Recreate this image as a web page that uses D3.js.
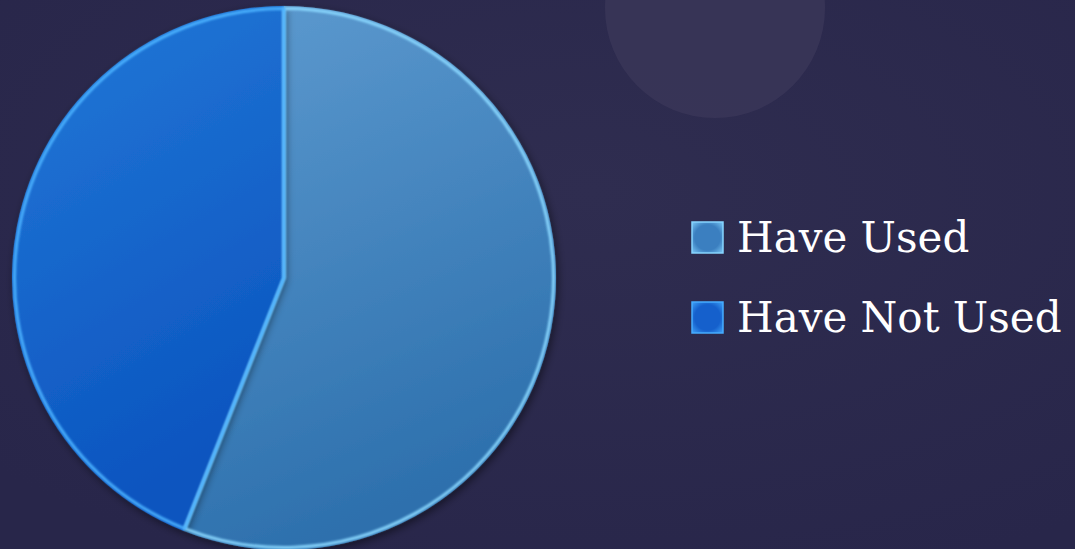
<!DOCTYPE html>
<html>
<head>
<meta charset="utf-8">
<script src="https://cdn.jsdelivr.net/npm/d3@7"></script>
<style>
  html, body { margin: 0; padding: 0; background: #2c2a4c; }
  svg { display: block; }
</style>
</head>
<body>
<svg id="chart" width="1075" height="549"></svg>
<script>
// Survey share: have used vs. have not used
const categories = ["Have Used", "Have Not Used"];
const values = [56, 44];

const W = 1075, H = 549;
const svg = d3.select("#chart");
const defs = svg.append("defs");

// Background
const bg = defs.append("radialGradient").attr("id", "bgGrad")
  .attr("cx", "55%").attr("cy", "35%").attr("r", "75%");
bg.append("stop").attr("offset", "0%").attr("stop-color", "#2f2d50");
bg.append("stop").attr("offset", "100%").attr("stop-color", "#28264a");
svg.append("rect").attr("width", W).attr("height", H).attr("fill", "url(#bgGrad)");

// Faint decorative disc top-right
svg.append("circle").attr("cx", 715).attr("cy", 8).attr("r", 110)
  .attr("fill", "#3a3658").attr("opacity", 0.85);

// Slice gradients
const sliceFills = [
  { id: "gUsed", top: "#5e9bd0", bottom: "#2d70ad", rim: "#8ad8ff" },
  { id: "gNot", top: "#2379d8", bottom: "#0b54bf", rim: "#4cb2ff" }
];
sliceFills.forEach(s => {
  const g = defs.append("linearGradient").attr("id", s.id)
    .attr("x1", "0").attr("y1", "0").attr("x2", "0.3").attr("y2", "1");
  g.append("stop").attr("offset", "0%").attr("stop-color", s.top);
  g.append("stop").attr("offset", "100%").attr("stop-color", s.bottom);
});

// Legend swatch gradients (bevelled look)
const swatch = [
  { id: "sUsed", inner: "#3b7fc0", outer: "#86d4ff" },
  { id: "sNot", inner: "#1560cc", outer: "#46acff" }
];
swatch.forEach(s => {
  const g = defs.append("radialGradient").attr("id", s.id).attr("r", "75%");
  g.append("stop").attr("offset", "55%").attr("stop-color", s.inner);
  g.append("stop").attr("offset", "100%").attr("stop-color", s.outer);
});

// Drop shadow under the pie
const shadow = defs.append("filter").attr("id", "shadow")
  .attr("x", "-10%").attr("y", "-10%").attr("width", "120%").attr("height", "120%");
shadow.append("feGaussianBlur").attr("in", "SourceAlpha").attr("stdDeviation", 4);
shadow.append("feOffset").attr("dx", 2).attr("dy", 3).attr("result", "off");
shadow.append("feComponentTransfer").append("feFuncA").attr("type", "linear").attr("slope", 0.5);
const m = shadow.append("feMerge");
m.append("feMergeNode");
m.append("feMergeNode").attr("in", "SourceGraphic");

// Soft blur for rim highlight
const rimBlur = defs.append("filter").attr("id", "rimBlur");
rimBlur.append("feGaussianBlur").attr("stdDeviation", 0.8);

const cx = 284, cy = 278, R = 272;
const pie = d3.pie().sort(null).value(d => d)(values);
const arc = d3.arc().innerRadius(0).outerRadius(R);
const rimArc = d3.arc().innerRadius(0).outerRadius(R - 2.5);

const g = svg.append("g").attr("transform", `translate(${cx},${cy})`);

g.selectAll("path.slice").data(pie).join("path")
  .attr("class", "slice")
  .attr("d", arc)
  .attr("fill", (d, i) => `url(#${sliceFills[i].id})`)
  .attr("filter", "url(#shadow)");

// Bevel highlight along each slice's edges
g.selectAll("path.rim").data(pie).join("path")
  .attr("class", "rim")
  .attr("d", rimArc)
  .attr("fill", "none")
  .attr("stroke", (d, i) => sliceFills[i].rim)
  .attr("stroke-width", 3)
  .attr("stroke-opacity", 0.95)
  .attr("stroke-linejoin", "round")
  .attr("filter", "url(#rimBlur)");

// Legend
const lg = svg.append("g").attr("transform", "translate(692,222)");
const items = lg.selectAll("g").data(categories).join("g")
  .attr("transform", (d, i) => `translate(0,${i * 80})`);
items.append("rect")
  .attr("width", 31).attr("height", 31)
  .attr("fill", (d, i) => `url(#${swatch[i].id})`)
  .attr("stroke", (d, i) => swatch[i].outer)
  .attr("stroke-width", 1.5);
items.append("text")
  .attr("x", 45).attr("y", 30)
  .attr("fill", "#ffffff")
  .attr("font-family", "'DejaVu Serif', 'Liberation Serif', serif")
  .attr("font-size", 42)
  .text(d => d);
</script>
</body>
</html>
